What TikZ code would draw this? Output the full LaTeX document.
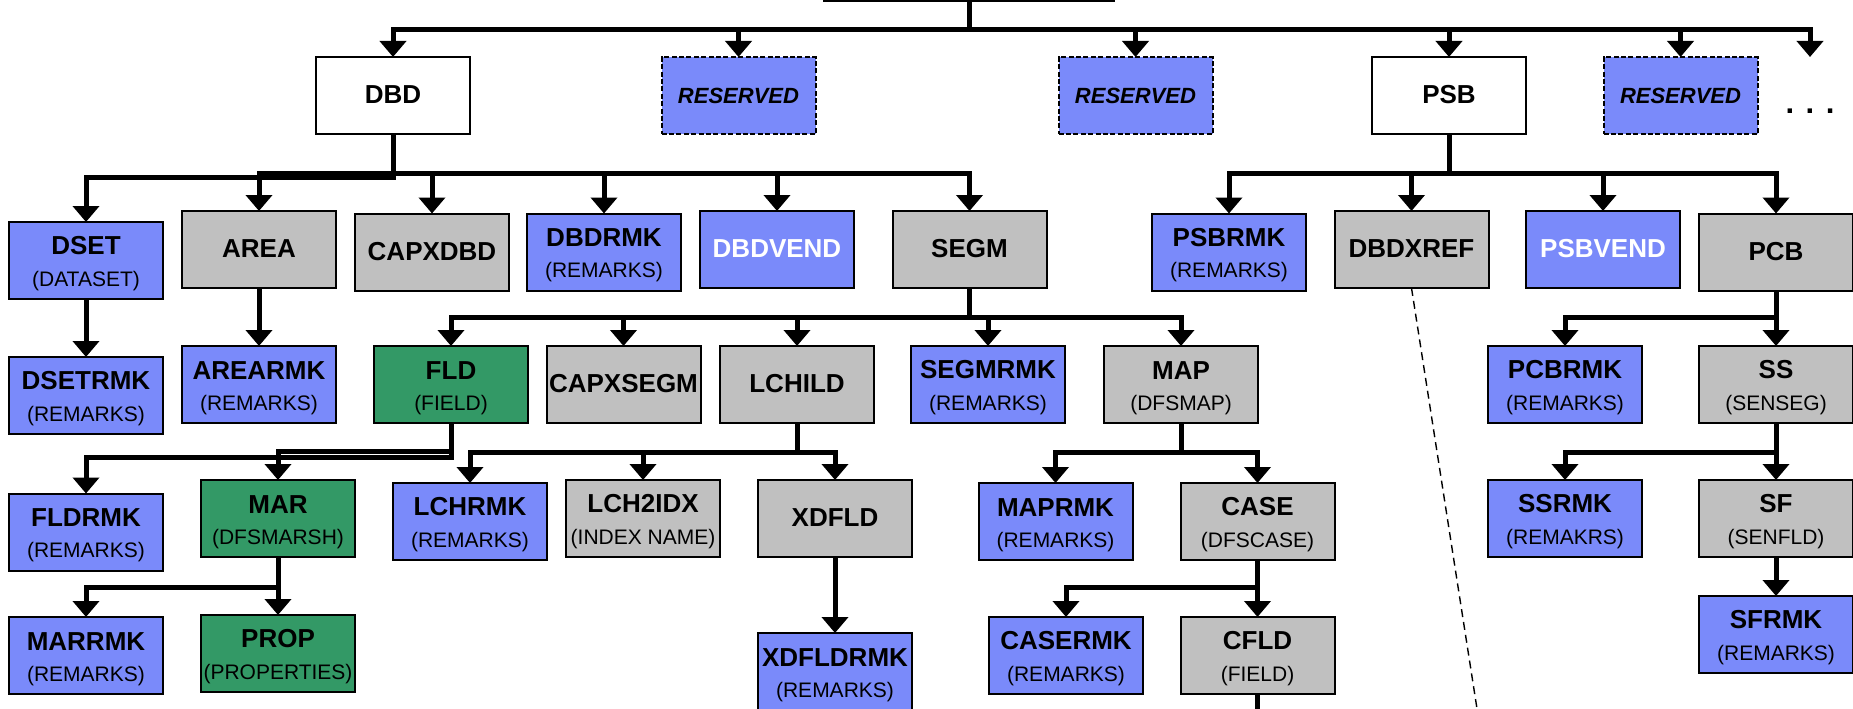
\documentclass[tikz,border=0pt]{standalone}
\usepackage{fontspec}
\setmainfont{Liberation Sans}
\usetikzlibrary{arrows.meta}

\definecolor{boxblue}{RGB}{122,138,250}
\definecolor{boxgray}{RGB}{192,192,192}
\definecolor{boxgreen}{RGB}{51,153,102}

\newcommand\namefont{\fontsize{26}{26}\selectfont\bfseries}
\newcommand\subfont{\fontsize{21}{21}\selectfont\mdseries}
% two-line label: bold name over a parenthesised description
\newcommand\twol[2]{\vbox{\offinterlineskip\halign{\hfil##\hfil\cr
  \vrule height 32.5pt depth 0pt width 0pt{\namefont #1}\cr
  \vrule height 31pt depth 12.5pt width 0pt{\subfont #2}\cr}}}

\tikzset{
  box/.style={draw=black, line width=2pt, minimum width=154pt, minimum height=77pt,
    inner sep=0pt, outer sep=0pt},
  one/.style={box, font=\namefont, text height=18.6pt, text depth=2.6pt},
  two/.style={box},
  whitebox/.style={fill=white},
  bluebox/.style={fill=boxblue},
  graybox/.style={fill=boxgray},
  greenbox/.style={fill=boxgreen},
  reserved/.style={box, fill=boxblue, dash pattern=on 5pt off 2.4pt,
    font=\fontsize{22}{22}\selectfont\bfseries\itshape, text height=15.8pt, text depth=0.5pt},
  conn/.style={line width=5pt, line join=miter, -{Triangle[length=16pt,width=26pt]}},
  xref/.style={line width=1.4pt, dash pattern=on 8pt off 5pt},
}

\begin{document}
\begin{tikzpicture}[x=1pt,y=-1pt]
\clip (0,0) rectangle (1853,709);
\fill[white] (0,0) rectangle (1853,709);

% bus heights
\coordinate (b0) at (0,30);
\coordinate (b1) at (0,173);
\coordinate (b1d) at (0,177.5);
\coordinate (b2) at (0,317);
\coordinate (b3a) at (0,451);
\coordinate (b3b) at (0,457);
\coordinate (b3c) at (0,452.5);
\coordinate (b4) at (0,587.5);

% root
\node[box, whitebox, minimum width=290pt, line width=1.2pt] (root) at (969,-37.5) {};

% first level
\node[one, whitebox] (DBD) at (393,95.5) {DBD};
\node[reserved] (res1) at (738.5,95.5) {RESERVED};
\node[reserved] (res2) at (1135.5,95.5) {RESERVED};
\node[one, whitebox] (PSB) at (1449,95.5) {PSB};
\node[reserved] (res3) at (1680.5,95.5) {RESERVED};
\node[font=\fontsize{31}{31}\selectfont\bfseries, inner sep=0pt] (more) at (1810,111) {. . .};
\coordinate (moreend) at (1810,57);

% DBD children
\node[two, bluebox] (DSET) at (86,260.5) {\twol{DSET}{(DATASET)}};
\node[one, graybox] (AREA) at (259,249.5) {AREA};
\node[one, graybox] (CAPXDBD) at (432,252) {CAPXDBD};
\node[two, bluebox] (DBDRMK) at (604,252) {\twol{DBDRMK}{(REMARKS)}};
\node[one, bluebox, text=white] (DBDVEND) at (777,249.5) {DBDVEND};
\node[one, graybox] (SEGM) at (969.5,249.5) {SEGM};

% PSB children
\node[two, bluebox] (PSBRMK) at (1229,252) {\twol{PSBRMK}{(REMARKS)}};
\node[one, graybox] (DBDXREF) at (1411.5,249.5) {DBDXREF};
\node[one, bluebox, text=white] (PSBVEND) at (1603,249.5) {PSBVEND};
\node[one, graybox] (PCB) at (1776,252) {PCB};

% third level
\node[two, bluebox] (DSETRMK) at (86,395.5) {\twol{DSETRMK}{(REMARKS)}};
\node[two, bluebox] (AREARMK) at (259,384.5) {\twol{AREARMK}{(REMARKS)}};
\node[two, greenbox] (FLD) at (451,384.5) {\twol{FLD}{(FIELD)}};
\node[one, graybox] (CAPXSEGM) at (623.5,384.5) {CAPXSEGM};
\node[one, graybox] (LCHILD) at (797,384.5) {LCHILD};
\node[two, bluebox] (SEGMRMK) at (988,384.5) {\twol{SEGMRMK}{(REMARKS)}};
\node[two, graybox] (MAP) at (1181,384.5) {\twol{MAP}{(DFSMAP)}};
\node[two, bluebox] (PCBRMK) at (1565,384.5) {\twol{PCBRMK}{(REMARKS)}};
\node[two, graybox] (SS) at (1776,384.5) {\twol{SS}{(SENSEG)}};

% fourth level
\node[two, bluebox] (FLDRMK) at (86,532) {\twol{FLDRMK}{(REMARKS)}};
\node[two, greenbox] (MAR) at (278,518.5) {\twol{MAR}{(DFSMARSH)}};
\node[two, bluebox] (LCHRMK) at (470,521.5) {\twol{LCHRMK}{(REMARKS)}};
\node[two, graybox] (LCH2IDX) at (643,518.5) {\twol{LCH2IDX}{(INDEX NAME)}};
\node[one, graybox] (XDFLD) at (835,518.5) {XDFLD};
\node[two, bluebox] (MAPRMK) at (1055.5,521.5) {\twol{MAPRMK}{(REMARKS)}};
\node[two, graybox] (CASE) at (1257.5,521.5) {\twol{CASE}{(DFSCASE)}};
\node[two, bluebox] (SSRMK) at (1565,518.5) {\twol{SSRMK}{(REMAKRS)}};
\node[two, graybox] (SF) at (1776,518.5) {\twol{SF}{(SENFLD)}};

% fifth level
\node[two, bluebox] (MARRMK) at (86,655.5) {\twol{MARRMK}{(REMARKS)}};
\node[two, greenbox] (PROP) at (278,653.5) {\twol{PROP}{(PROPERTIES)}};
\node[two, bluebox] (XDFLDRMK) at (835,671.5) {\twol{XDFLDRMK}{(REMARKS)}};
\node[two, bluebox] (CASERMK) at (1066,655.5) {\twol{CASERMK}{(REMARKS)}};
\node[two, graybox] (CFLD) at (1257.5,655.5) {\twol{CFLD}{(FIELD)}};
\node[two, bluebox] (SFRMK) at (1776,634.5) {\twol{SFRMK}{(REMARKS)}};

\coordinate (cfldend) at (1257.5,715);
\coordinate (xrefend) at (1477.5,712);

% connectors from the root
\foreach \c in {DBD,res1,res2,PSB,res3,moreend}
  \draw[conn] (root.south) |- (\c.north |- b0) -- (\c.north);

% DBD
\draw[conn] (DBD.south) |- (DSET.north |- b1d) -- (DSET.north);
\foreach \c in {AREA,CAPXDBD,DBDRMK,DBDVEND,SEGM}
  \draw[conn] (DBD.south) |- (\c.north |- b1) -- (\c.north);

% PSB
\foreach \c in {PSBRMK,DBDXREF,PSBVEND,PCB}
  \draw[conn] (PSB.south) |- (\c.north |- b1) -- (\c.north);

% single descendants
\draw[conn] (DSET.south) -- (DSETRMK.north);
\draw[conn] (AREA.south) -- (AREARMK.north);
\draw[conn] (XDFLD.south) -- (XDFLDRMK.north);
\draw[conn] (SF.south) -- (SFRMK.north);

% SEGM
\foreach \c in {FLD,CAPXSEGM,LCHILD,SEGMRMK,MAP}
  \draw[conn] (SEGM.south) |- (\c.north |- b2) -- (\c.north);

% PCB
\draw[conn] (PCB.south) |- (PCBRMK.north |- b2) -- (PCBRMK.north);
\draw[conn] (PCB.south) -- (SS.north);

% FLD
\draw[conn] (FLD.south) |- (FLDRMK.north |- b3b) -- (FLDRMK.north);
\draw[conn] (FLD.south) |- (MAR.north |- b3a) -- (MAR.north);

% LCHILD
\foreach \c in {LCHRMK,LCH2IDX,XDFLD}
  \draw[conn] (LCHILD.south) |- (\c.north |- b3c) -- (\c.north);

% MAP
\foreach \c in {MAPRMK,CASE}
  \draw[conn] (MAP.south) |- (\c.north |- b3c) -- (\c.north);

% SS
\draw[conn] (SS.south) |- (SSRMK.north |- b3c) -- (SSRMK.north);
\draw[conn] (SS.south) -- (SF.north);

% MAR
\draw[conn] (MAR.south) |- (MARRMK.north |- b4) -- (MARRMK.north);
\draw[conn] (MAR.south) -- (PROP.north);

% CASE
\draw[conn] (CASE.south) |- (CASERMK.north |- b4) -- (CASERMK.north);
\draw[conn] (CASE.south) -- (CFLD.north);

% CFLD continues below
\draw[line width=5pt] (CFLD.south) -- (cfldend);

% cross reference
\draw[xref] (DBDXREF.south) -- (xrefend);
\end{tikzpicture}
\end{document}
